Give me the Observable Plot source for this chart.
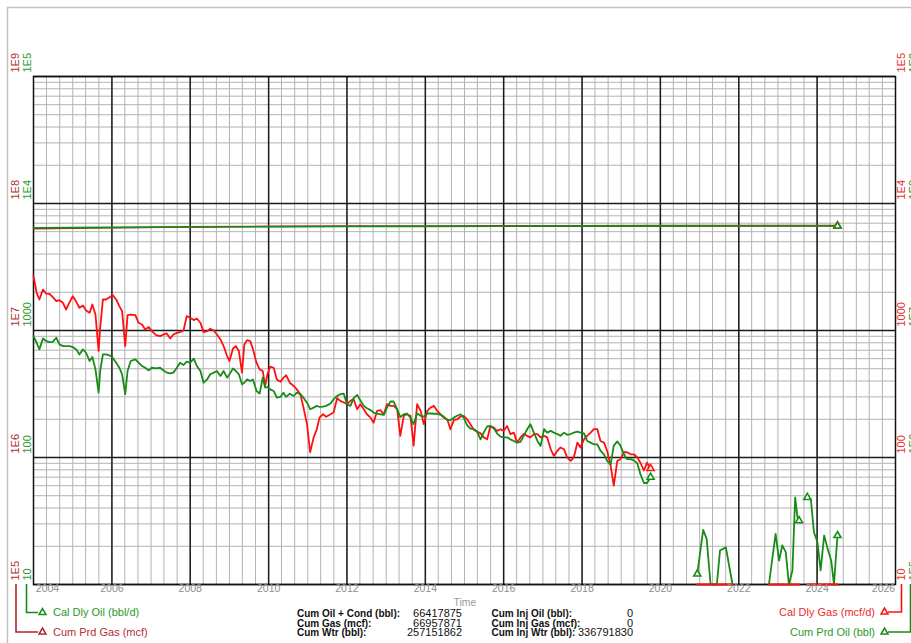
<!DOCTYPE html>
<html><head><meta charset="utf-8">
<script src="https://cdn.jsdelivr.net/npm/d3@7"></script>
<script src="https://cdn.jsdelivr.net/npm/@observablehq/plot@0.6"></script>
<style>html,body{margin:0;padding:0;background:#fff;overflow:hidden}svg{display:block}</style>
</head><body>
<div id="chart"></div>
<script>
// ---------- data (decimal years, values) ----------
const mainT = [2004.00,2004.08,2004.15,2004.24,2004.32,2004.41,2004.49,2004.58,2004.66,2004.75,2004.83,2004.92,
2005.00,2005.09,2005.17,2005.26,2005.34,2005.43,2005.50,2005.58,2005.66,2005.70,2005.77,2005.85,2005.94,
2006.02,2006.11,2006.19,2006.26,2006.34,2006.40,2006.48,2006.60,2006.68,2006.77,2006.85,2006.94,
2007.02,2007.13,2007.23,2007.32,2007.40,2007.49,2007.57,2007.66,2007.74,2007.83,2007.91,
2008.00,2008.09,2008.17,2008.26,2008.34,2008.43,2008.51,2008.60,2008.68,2008.77,2008.85,2008.94,
2009.00,2009.09,2009.16,2009.24,2009.32,2009.38,2009.45,2009.53,2009.60,2009.69,2009.77,2009.85,2009.91,2009.97,
2010.04,2010.13,2010.21,2010.30,2010.38,2010.45,2010.54,2010.64,2010.72,2010.81,2010.89,2010.98,
2011.06,2011.15,2011.23,2011.30,2011.39,2011.47,2011.58,
2011.66,2011.75,2011.83,2011.92,2012.00,2012.09,2012.17,2012.26,2012.34,2012.43,2012.51,2012.60,2012.68,2012.77,2012.85,2012.94,
2013.02,2013.11,2013.19,2013.28,2013.36,2013.45,2013.53,2013.62,2013.70,2013.79,2013.88,2013.96,
2014.05,2014.13,2014.22,2014.30,2014.39,2014.47,2014.56,2014.64,2014.73,2014.81,2014.90,2014.98,
2015.07,2015.15,2015.24,2015.32,2015.41,2015.49,2015.58,2015.66,2015.75,2015.83,2015.92,
2016.00,2016.09,2016.17,2016.26,2016.34,2016.43,2016.51,2016.60,2016.68,2016.77,2016.86,2016.94,
2017.03,2017.11,2017.20,2017.28,2017.37,2017.45,2017.54,2017.62,2017.71,2017.79,2017.88,2017.96,
2018.05,2018.13,2018.22,2018.30,2018.39,2018.47,2018.56,2018.64,2018.73,2018.81,2018.90,2018.98,
2019.07,2019.15,2019.24,2019.32,2019.41,2019.49,2019.58,2019.66,2019.75];

// Cal Dly Gas (mcf/d)
const mainGas = [2674,1979,1754,2100,1954,1945,1829,1702,1733,1652,
1463,1672,1862,1682,1508,1574,1437,1377,1603,1336,
689,1050,1754,1754,1829,1897,1754,1555,1419,754,
1321,1336,1321,1150,1116,1018,1064,988,920,903,
931,948,866,931,959,971,1000,1297,1259,1207,
1244,1150,971,988,1031,1000,931,851,754,629,
575,722,754,689,466,777,840,826,710,558,
494,480,366,452,519,509,412,395,425,444,
388,366,344,315,247,183,110,144,167,206,
219,209,219,
226,293,279,271,263,279,288,240,263,240,
219,206,188,233,236,219,263,255,255,240,
148,213,219,213,124,263,233,183,233,247,
255,233,219,206,200,167,198,200,210,213,
200,183,165,160,155,144,139,177,172,162,
167,162,177,153,157,131,144,153,148,144,
153,153,144,148,144,116,103,113,120,116,
100,94,100,131,120,139,148,157,167,167,
135,131,113,86,60,94,97,110,110,106,
106,100,91,79,91,82];

// Cal Dly Oil (bbl/d)
const mainOil = [903,801,710,866,826,810,815,877,777,754,
754,754,740,710,648,710,668,575,618,494,
324,480,648,648,637,611,558,509,452,315,
480,575,593,558,525,509,485,509,503,509,
485,466,459,466,509,558,535,568,558,600,
525,480,388,412,452,466,480,438,480,425,
452,503,480,452,377,388,412,400,412,334,
318,425,355,359,344,334,296,300,324,300,
318,305,324,315,296,270,240,247,255,250,
252,255,266,
288,305,315,318,263,255,293,311,282,255,
244,236,226,222,219,217,247,276,276,240,
208,219,222,206,183,222,213,210,222,222,
221,221,217,210,197,197,206,213,219,206,
179,169,167,160,139,157,176,177,169,155,
146,144,144,139,135,131,133,148,167,183,
157,135,123,167,157,162,157,153,148,157,
151,153,157,160,157,155,135,131,127,127,
113,106,94,88,124,134,124,106,97,97,
95,90,74,63,63,70];

// 2020+ production, three runs
const postT   = [2020.94,2021.09,2021.18,2021.28,2021.44,2021.52,2021.67,2021.84,
                 2022.77,2022.94,2023.03,2023.11,2023.20,2023.28,2023.37,2023.44,2023.50,2023.54,
                 2023.75,2023.84,2023.92,2024.01,2024.09,2024.18,2024.26,2024.36,2024.43,2024.52];
const postSeg = [1,1,1,1,1,1,1,1, 2,2,2,2,2,2,2,2,2,2, 3,3,3,3,3,3,3,3,3,3];
const postOil = [12.1,26.9,22.9,0,0,18.5,19.6,0,
                 0,25.0,15.4,20.3,18.0,0,12.9,48.5,33.8,31.8,
                 48.5,47.1,25.8,21.5,12.9,24.3,19.6,15.4,0,24.3];
const postGas = [0,0,0,0,0,0,0,0, 0,0,0,0,0,0,0,0,0,0, 0,0,0,0,0,0,0,0,0,0];
const postOilMarkers = [0,17,18,27];

// cumulative
const cumT   = [2004.0,2006.0,2008.0,2010.0,2012.0,2014.0,2016.0,2018.0,2019.75,2024.52];
const cumOil = [64.35e6,64.85e6,65.3e6,65.65e6,65.9e6,66.08e6,66.2e6,66.32e6,66.41e6,66417875];
const cumGas = [63.25e6,64.4e6,65.4e6,66.0e6,66.35e6,66.55e6,66.7e6,66.83e6,66.95e6,66957871];

// axis labels
const xTickYears = [2004,2006,2008,2010,2012,2014,2016,2018,2020,2022,2024,2026];
const decades = [10,100,1000,1e4,1e5];
const leftGasLabels  = ["1E5","1E6","1E7","1E8","1E9"];
const leftOilLabels  = ["10","100","1000","1E4","1E5"];
const rightGasLabels = ["10","100","1000","1E4","1E5"];
const rightOilLabels = ["1E5","1E6","1E7","1E8","1E9"];

const statsLeft  = [["Cum Oil + Cond (bbl):","66417875"],["Cum Gas (mcf):","66957871"],["Cum Wtr (bbl):","257151862"]];
const statsRight = [["Cum Inj Oil (bbl):","0"],["Cum Inj Gas (mcf):","0"],["Cum Inj Wtr (bbl):","336791830"]];

// ---------- helpers ----------
const toDate = y => { const yr = Math.floor(y); const s = Date.UTC(yr,0,1), e = Date.UTC(yr+1,0,1); return new Date(s + (y-yr)*(e-s)); };
const yMin = 10;
const clampV = v => Math.max(v, yMin);

const GREEN = "#178c17", GREEN_TXT = "#2a9a2a", RED = "#ff1010", RED_TXT = "#ee2a2a", DRED = "#b02828", DRED_TXT = "#b03030";
const FONT = "'Liberation Sans', Arial, Helvetica, sans-serif";

const mainData = mainT.map((t,i) => ({t: toDate(t), gas: mainGas[i], oil: mainOil[i]}));
const postData = postT.map((t,i) => ({t: toDate(t), seg: postSeg[i], oil: clampV(postOil[i]), gas: clampV(postGas[i])}));
const cumData  = cumT.map((t,i) => ({t: toDate(t), oil: cumOil[i]/1e4, gas: cumGas[i]/1e4}));

const minorY = [];
for (const d of [10,100,1000,1e4]) for (let m = 2; m <= 9; m++) minorY.push(d*m);
const x0 = new Date(Date.UTC(2004,0,1)), x1 = new Date(Date.UTC(2026,0,1));
const minorX = d3.utcMonth.every(4).range(x0, x1);
const majorX = d3.utcYear.every(2).range(new Date(Date.UTC(2006,0,1)), x1);

const innerTicks = xTickYears.slice(1, -1);

const chart = Plot.plot({
  width: 911, height: 643,
  marginLeft: 33, marginRight: 16, marginTop: 76, marginBottom: 59,
  style: {fontFamily: FONT, background: "white"},
  x: {type: "utc", domain: [x0, x1], axis: null},
  y: {type: "log", domain: [10, 1e5], axis: null},
  marks: [
    Plot.ruleY(minorY, {stroke: "#b3b3b3", strokeWidth: 1}),
    Plot.ruleX(minorX, {stroke: "#b3b3b3", strokeWidth: 1}),
    Plot.ruleY(decades, {stroke: "#1a1a1a", strokeWidth: 1.5}),
    Plot.ruleX(majorX, {stroke: "#1a1a1a", strokeWidth: 1.5}),
    Plot.frame({stroke: "#111", strokeWidth: 1.5}),
    // cumulative
    Plot.line(cumData, {x: "t", y: "gas", stroke: DRED, strokeWidth: 1.6}),
    Plot.line(cumData, {x: "t", y: "oil", stroke: GREEN, strokeWidth: 1.6}),
    // daily rates
    Plot.line(mainData, {x: "t", y: "gas", stroke: RED, strokeWidth: 1.8}),
    Plot.line(mainData, {x: "t", y: "oil", stroke: GREEN, strokeWidth: 1.8}),
    Plot.line(postData, {x: "t", y: "oil", z: "seg", stroke: GREEN, strokeWidth: 1.8}),
    Plot.line(postData, {x: "t", y: "gas", z: "seg", stroke: RED, strokeWidth: 2}),
    // markers
    Plot.dot([mainData[mainData.length-1]], {x: "t", y: "gas", symbol: "triangle", r: 2.6, stroke: RED, strokeWidth: 1.6, fill: "white"}),
    Plot.dot([mainData[mainData.length-1]], {x: "t", y: "oil", symbol: "triangle", r: 2.6, stroke: GREEN, strokeWidth: 1.6, fill: "white"}),
    Plot.dot(postOilMarkers.map(i => postData[i]), {x: "t", y: "oil", symbol: "triangle", r: 2.6, stroke: GREEN, strokeWidth: 1.6, fill: "white"}),
    Plot.dot([cumData[cumData.length-1]], {x: "t", y: "gas", symbol: "triangle", r: 2.6, stroke: DRED, strokeWidth: 1.6, fill: "white"}),
    Plot.dot([cumData[cumData.length-1]], {x: "t", y: "oil", symbol: "triangle", r: 2.6, stroke: GREEN, strokeWidth: 1.6, fill: "white"}),
    // x tick labels
    Plot.text(innerTicks, {x: d => new Date(Date.UTC(d,0,1)), text: d => String(d), frameAnchor: "bottom", dy: 7.5, fill: "#8c8c8c", fontSize: 10.5}),
    Plot.text([xTickYears[0]], {x: d => new Date(Date.UTC(d,0,1)), text: d => String(d), frameAnchor: "bottom", dy: 7.5, dx: 14, fill: "#8c8c8c", fontSize: 10.5}),
    Plot.text([xTickYears[xTickYears.length-1]], {x: d => new Date(Date.UTC(d,0,1)), text: d => String(d), frameAnchor: "bottom", dy: 7.5, dx: -12, fill: "#8c8c8c", fontSize: 10.5}),
    // y decade labels (rotated)
    Plot.text(decades, {y: d => d, text: (d,i) => leftGasLabels[i], frameAnchor: "left", dx: -18, dy: -4, rotate: -90, textAnchor: "start", fill: DRED_TXT, fontSize: 11}),
    Plot.text(decades, {y: d => d, text: (d,i) => leftOilLabels[i], frameAnchor: "left", dx: -6, dy: -4, rotate: -90, textAnchor: "start", fill: GREEN_TXT, fontSize: 11}),
    Plot.text(decades, {y: d => d, text: (d,i) => rightGasLabels[i], frameAnchor: "right", dx: 6, dy: -4, rotate: -90, textAnchor: "start", fill: RED_TXT, fontSize: 11}),
    Plot.text(decades, {y: d => d, text: (d,i) => rightOilLabels[i], frameAnchor: "right", dx: 17.5, dy: -4, rotate: -90, textAnchor: "start", fill: GREEN_TXT, fontSize: 11})
  ]
});
document.getElementById("chart").appendChild(chart);

// ---------- outer decorations: border, title, legends, totals ----------
const svg = d3.select(chart);
const deco = svg.append("g").attr("font-family", FONT).attr("text-anchor", "start");
deco.append("path").attr("d", "M7.5,643V7.5H911").attr("fill", "none").attr("stroke", "#c2c2c2").attr("stroke-width", 1.5);

deco.append("text").attr("x", 453.5).attr("y", 606).attr("font-size", 10.5).attr("text-anchor", "start").attr("fill", "#9a9a9a").text("Time");

const tri = d3.symbol(d3.symbolTriangle, 20)();
function legendItem(pathD, color, triX, y, label, textX, anchor, txtColor) {
  deco.append("path").attr("d", pathD).attr("fill", "none").attr("stroke", color).attr("stroke-width", 1.6);
  deco.append("path").attr("d", tri).attr("transform", `translate(${triX},${y})`).attr("fill", "white").attr("stroke", color).attr("stroke-width", 1.6);
  deco.append("text").attr("x", textX).attr("y", y).attr("dy", "0.36em").attr("font-size", 11).attr("text-anchor", anchor).attr("fill", txtColor).text(label);
}
legendItem("M26.5,584V612.5H38", GREEN, 42.5, 612.5, "Cal Dly Oil (bbl/d)", 53, "start", GREEN_TXT);
legendItem("M16,584V632H38", DRED, 42.5, 632, "Cum Prd Gas (mcf)", 53, "start", DRED_TXT);
legendItem("M901.5,584V612H888", RED, 884.5, 612, "Cal Dly Gas (mcf/d)", 875, "end", RED_TXT);
legendItem("M910.5,584V632H888", GREEN, 884.5, 632, "Cum Prd Oil (bbl)", 875, "end", GREEN_TXT);

const rowsY = [616.5, 626.5, 636];
statsLeft.forEach(([lab, val], i) => {
  deco.append("text").attr("x", 297).attr("y", rowsY[i]).attr("font-size", 10).attr("font-weight", "bold").attr("text-anchor", "start").attr("fill", "#111").text(lab);
  deco.append("text").attr("x", 462).attr("y", rowsY[i]).attr("font-size", 11).attr("text-anchor", "end").attr("fill", "#111").text(val);
});
statsRight.forEach(([lab, val], i) => {
  deco.append("text").attr("x", 491.5).attr("y", rowsY[i]).attr("font-size", 10).attr("font-weight", "bold").attr("text-anchor", "start").attr("fill", "#111").text(lab);
  deco.append("text").attr("x", 633).attr("y", rowsY[i]).attr("font-size", 11).attr("text-anchor", "end").attr("fill", "#111").text(val);
});
</script>
</body></html>
